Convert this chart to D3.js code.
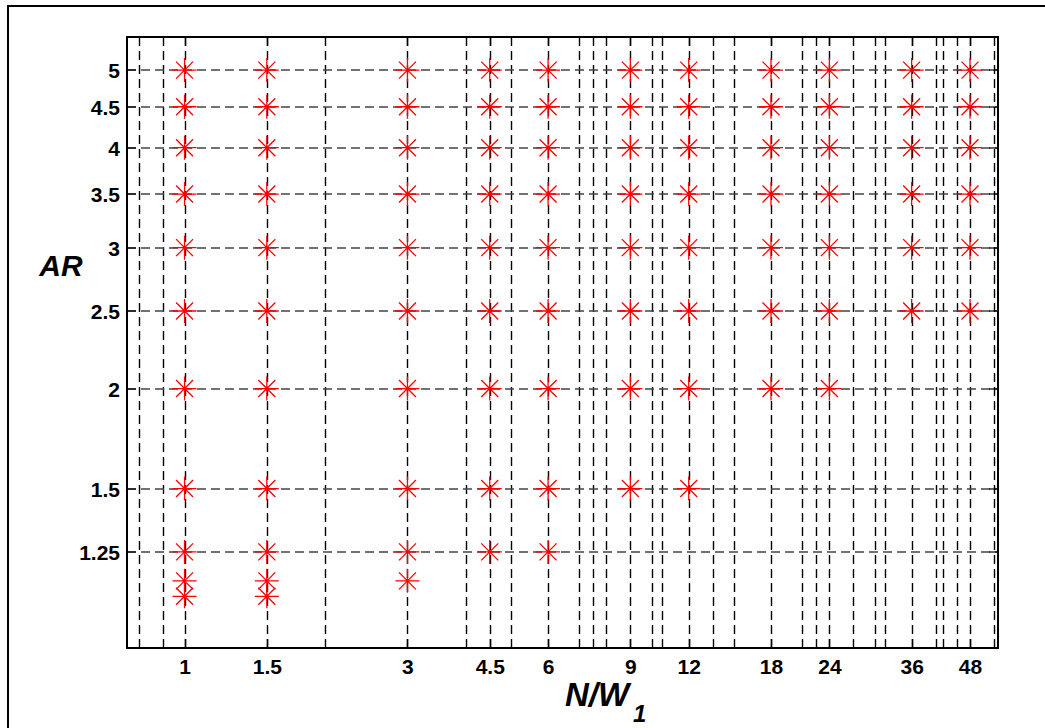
<!DOCTYPE html>
<html>
<head>
<meta charset="utf-8">
<script src="https://cdn.jsdelivr.net/npm/d3@7"></script>
<style>
  html, body { margin: 0; padding: 0; background: #fff; }
  svg { display: block; }
  text { font-family: "Liberation Sans", Arial, sans-serif; }
</style>
</head>
<body>
<svg id="chart" width="1045" height="728"></svg>
<script>
// ---- data ----
const xTicks = [1, 1.5, 3, 4.5, 6, 9, 12, 18, 24, 36, 48];
const yTicks = [1.25, 1.5, 2, 2.5, 3, 3.5, 4, 4.5, 5];
const xGridExtra = [0.8, 0.9, 2, 4, 5, 7, 7.5, 8, 10, 10.5, 13.5, 15, 21, 22.5, 27, 30, 31.5, 40.5, 42, 45, 54];
// points: for each AR value, the N/W1 values that have a marker
const arValues = [5, 4.5, 4, 3.5, 3, 2.5, 2, 1.5, 1.25, 1.15, 1.1];
const nwByAR = [
  [1, 1.5, 3, 4.5, 6, 9, 12, 18, 24, 36, 48],
  [1, 1.5, 3, 4.5, 6, 9, 12, 18, 24, 36, 48],
  [1, 1.5, 3, 4.5, 6, 9, 12, 18, 24, 36, 48],
  [1, 1.5, 3, 4.5, 6, 9, 12, 18, 24, 36, 48],
  [1, 1.5, 3, 4.5, 6, 9, 12, 18, 24, 36, 48],
  [1, 1.5, 3, 4.5, 6, 9, 12, 18, 24, 36, 48],
  [1, 1.5, 3, 4.5, 6, 9, 12, 18, 24],
  [1, 1.5, 3, 4.5, 6, 9, 12],
  [1, 1.5, 3, 4.5, 6],
  [1, 1.5, 3],
  [1, 1.5]
];
const xDomain = [0.753, 55.1];
const yDomain = [0.948, 5.5];

// ---- layout ----
const svg = d3.select("#chart");
const L = 127, R = 998, T = 37, B = 648;

// figure frame
svg.append("rect").attr("x", 8).attr("y", 6).attr("width", 1060).attr("height", 740)
  .attr("fill", "none").attr("stroke", "#000").attr("stroke-width", 2);

const x = d3.scaleLog().domain(xDomain).range([L, R]);
const y = d3.scaleLog().domain(yDomain).range([B, T]);

const g = svg.append("g");

// vertical grid
const xGridAll = xTicks.concat(xGridExtra).sort((a, b) => a - b);
g.selectAll("line.vg").data(xGridAll).join("line")
  .attr("class", "vg")
  .attr("x1", d => Math.round(x(d)) + 0.5).attr("x2", d => Math.round(x(d)) + 0.5)
  .attr("y1", T).attr("y2", B)
  .attr("stroke", "#000").attr("stroke-width", 1.4)
  .attr("stroke-dasharray", "9,5");

// horizontal grid
g.selectAll("line.hg").data(yTicks).join("line")
  .attr("class", "hg")
  .attr("y1", d => Math.round(y(d))).attr("y2", d => Math.round(y(d)))
  .attr("x1", L).attr("x2", R)
  .attr("stroke", "#444").attr("stroke-width", 1.4)
  .attr("stroke-dasharray", "9,5");

// tick marks (inside) on y axis left & right
g.selectAll("line.ytl").data(yTicks).join("line")
  .attr("x1", L).attr("x2", L + 9)
  .attr("y1", d => Math.round(y(d))).attr("y2", d => Math.round(y(d)))
  .attr("stroke", "#000").attr("stroke-width", 1.2);
g.selectAll("line.ytr").data(yTicks).join("line")
  .attr("x1", R - 9).attr("x2", R)
  .attr("y1", d => Math.round(y(d))).attr("y2", d => Math.round(y(d)))
  .attr("stroke", "#000").attr("stroke-width", 1.2);
// x ticks bottom & top
g.selectAll("line.xtb").data(xTicks).join("line")
  .attr("x1", d => Math.round(x(d)) + 0.5).attr("x2", d => Math.round(x(d)) + 0.5)
  .attr("y1", B).attr("y2", B - 9)
  .attr("stroke", "#000").attr("stroke-width", 1.4);
g.selectAll("line.xtt").data(xTicks).join("line")
  .attr("x1", d => Math.round(x(d)) + 0.5).attr("x2", d => Math.round(x(d)) + 0.5)
  .attr("y1", T).attr("y2", T + 9)
  .attr("stroke", "#000").attr("stroke-width", 1.4);

// axis box
g.append("rect").attr("x", L).attr("y", T).attr("width", R - L).attr("height", B - T)
  .attr("fill", "none").attr("stroke", "#000").attr("stroke-width", 2);

// x tick labels via d3 axis
const xAxis = d3.axisBottom(x).tickValues(xTicks).tickFormat(d3.format("")).tickSize(0).tickPadding(0);
const xa = svg.append("g").attr("transform", `translate(0,${B})`).call(xAxis);
xa.select(".domain").remove();
xa.selectAll("text")
  .attr("y", 26).attr("dy", 0)
  .style("font-size", "21px").style("font-weight", "bold")
  .style("font-family", "'Liberation Sans', Arial, sans-serif").attr("fill", "#000");

const yAxis = d3.axisLeft(y).tickValues(yTicks).tickFormat(d3.format("")).tickSize(0).tickPadding(0);
const ya = svg.append("g").attr("transform", `translate(${L},0)`).call(yAxis);
ya.select(".domain").remove();
ya.selectAll("text")
  .attr("x", -7).attr("dy", "0.36em")
  .style("font-size", "21px").style("font-weight", "bold")
  .style("font-family", "'Liberation Sans', Arial, sans-serif").attr("fill", "#000");

// points
const pts = [];
arValues.forEach((ar, i) => nwByAR[i].forEach(nw => pts.push({nw, ar})));
const r = 12, rd = 8.5;
const star = `M${-r},0L${r},0M0,${-r}L0,${r}M${-rd},${-rd}L${rd},${rd}M${-rd},${rd}L${rd},${-rd}`;
svg.append("g").selectAll("path").data(pts).join("path")
  .attr("transform", d => `translate(${x(d.nw)},${y(d.ar)})`)
  .attr("d", star)
  .attr("fill", "none").attr("stroke", "#ff0000").attr("stroke-width", 1.3);

// axis labels
svg.append("text").attr("x", 61).attr("y", 276).attr("text-anchor", "middle")
  .style("font-size", "30px").style("font-weight", "bold").style("font-style", "italic")
  .text("AR");

const xl = svg.append("text").attr("x", 565).attr("y", 706)
  .style("font-size", "33px").style("font-weight", "bold").style("font-style", "italic")
  .text("N/W");
const bb = xl.node().getBBox();
svg.append("text").attr("x", bb.x + bb.width + 1).attr("y", 722)
  .style("font-size", "24px").style("font-weight", "bold").style("font-style", "italic")
  .text("1");
</script>
</body>
</html>
